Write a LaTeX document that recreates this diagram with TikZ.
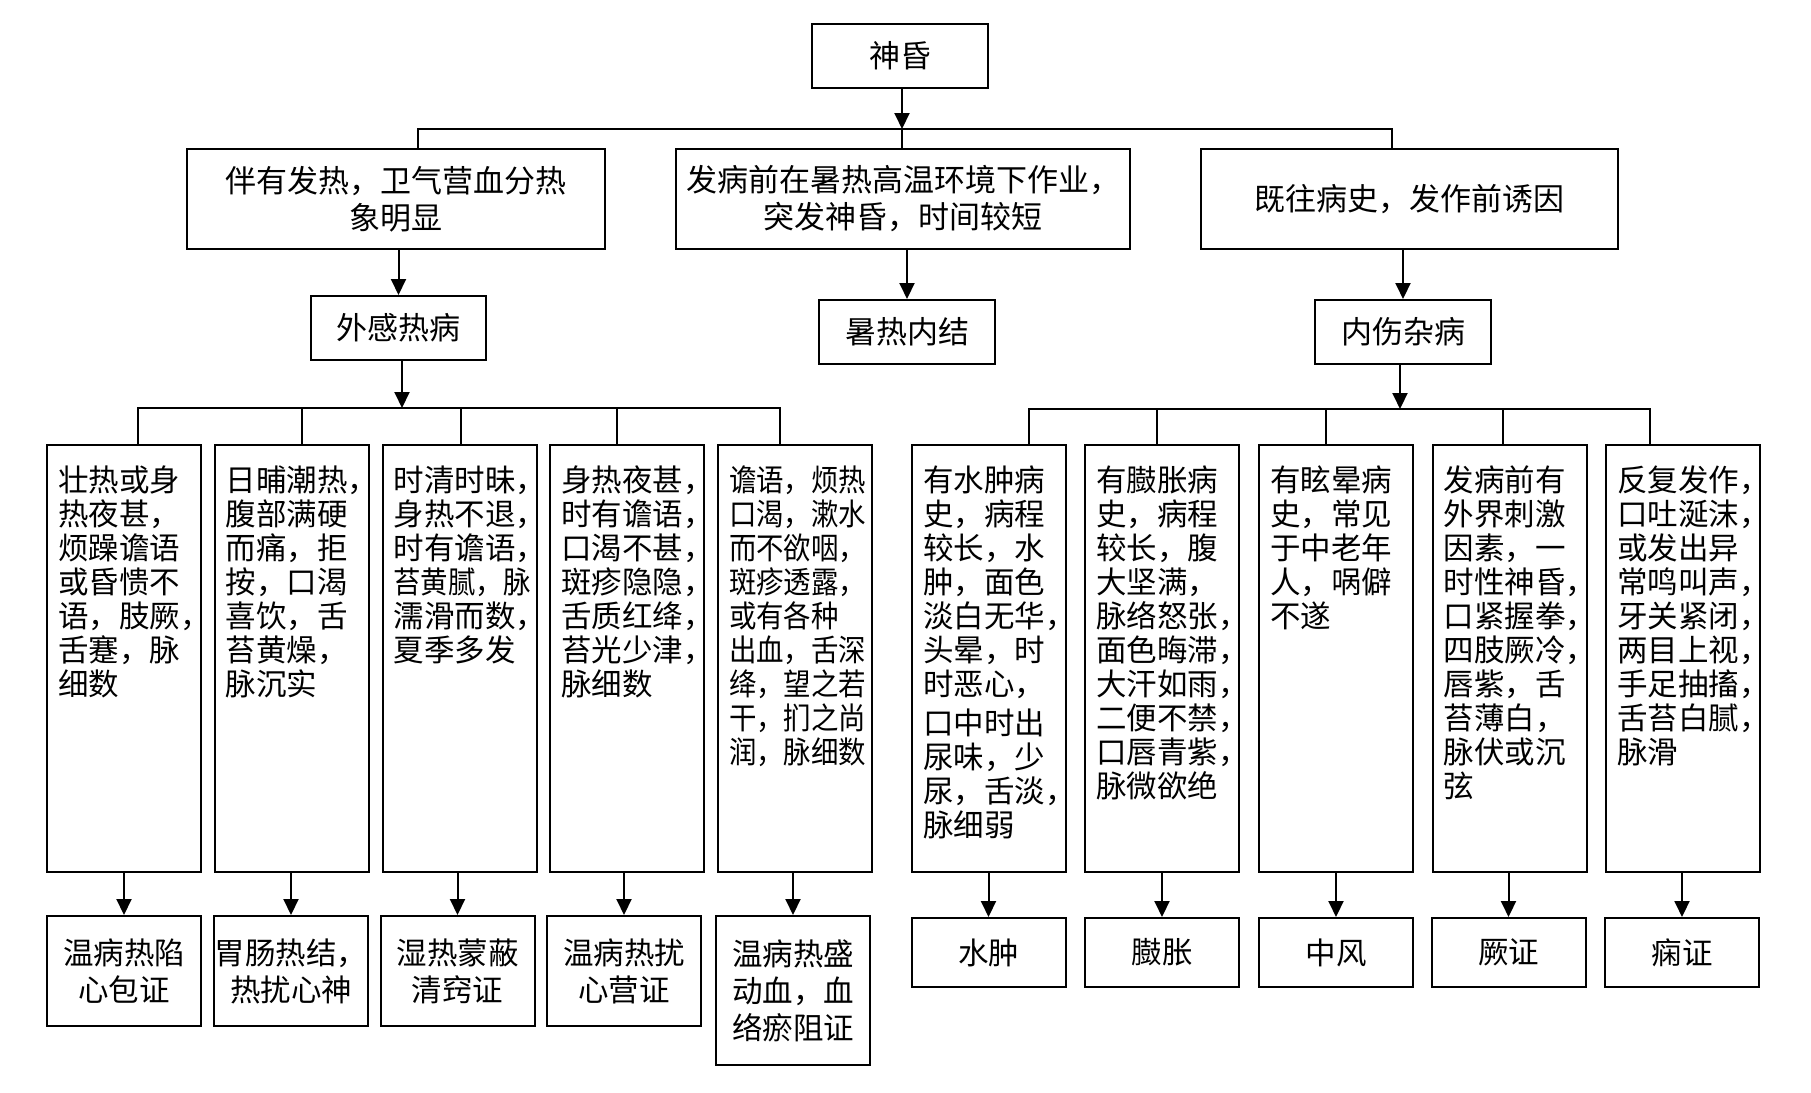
\documentclass[tikz,border=0pt]{standalone}
\usepackage{fontspec}
\setmainfont{Noto Sans CJK SC}
\newfontfamily\narrowcjk[FakeStretch=0.9]{Noto Sans CJK SC}
\usetikzlibrary{arrows.meta}
\usetikzlibrary{calc}
\usetikzlibrary{positioning}

\newcommand{\coltext}[1]{\parbox[c][\MH pt][t]{132pt}{\raggedright\vspace*{21pt}#1}}

\begin{document}
\begin{tikzpicture}[x=1pt, y=-1pt]

\pgfmathsetmacro{\MW}{154}
\pgfmathsetmacro{\MH}{427}
\pgfmathsetmacro{\MY}{658.5}

\tikzset{
  box/.style={draw, line width=2pt, inner sep=0pt, align=center},
  topbox/.style={box, font=\fontsize{31}{37}\selectfont},
  colbox/.style={draw, line width=2pt, inner xsep=11pt, inner ysep=0pt, minimum width=\MW pt, font=\fontsize{30.5}{34}\selectfont},
  endbox/.style={box, minimum width=\MW pt, font=\fontsize{30.5}{37}\selectfont},
  link/.style={line width=2pt},
  arr/.style={line width=2pt, -{Triangle[length=16pt, width=15pt]}},
}

\useasboundingbox (0,0) rectangle (1811,1092);

% level 0
\node [topbox, minimum width=176pt, minimum height=64pt] (SH) at (900, 56) {神昏};

% level 1
\node [topbox, minimum width=418pt, minimum height=100pt] (C1) at (396, 199) {伴有发热，卫气营血分热\\象明显};
\node [topbox, minimum width=454pt, minimum height=100pt] (C2) at (903, 199) {发病前在暑热高温环境下作业，\\突发神昏，时间较短};
\node [topbox, minimum width=417pt, minimum height=100pt] (C3) at (1409.5, 199) {既往病史，发作前诱因};

\coordinate (B0) at (902, 129);
\draw [arr] (SH.south -| B0) -- (B0);
\draw [link] ($(C1.north)+(22,0)$) |- (B0) -| ($(C3.north)+(-18,0)$);
\draw [link] (B0) -- (B0 |- C2.north);

% level 2
\node [topbox, minimum width=175pt, minimum height=64pt] (WG) at (398.5, 328) {外感热病};
\node [topbox, minimum width=176pt, minimum height=64pt] (SR) at (907, 332) {暑热内结};
\node [topbox, minimum width=176pt, minimum height=64pt] (NS) at (1403, 332) {内伤杂病};

\draw [arr] (WG.north |- C1.south) -- (WG.north);
\draw [arr] (SR.north |- C2.south) -- (SR.north);
\draw [arr] (NS.north |- C3.south) -- (NS.north);

% level 3, left
\node [colbox] (M1) at (124, \MY) {\coltext{壮热或身\\热夜甚，\\烦躁谵语\\或昏愦不\\语，肢厥，\\舌蹇，脉\\细数}};
\node [colbox] (M2) at (291.5, \MY) {\coltext{日晡潮热，\\腹部满硬\\而痛，拒\\按，口渴\\喜饮，舌\\苔黄燥，\\脉沉实}};
\node [colbox] (M3) at (459.5, \MY) {\coltext{时清时昧，\\身热不退，\\时有谵语，\\{\narrowcjk 苔黄腻，脉}\\濡滑而数，\\夏季多发}};
\node [colbox] (M4) at (627, \MY) {\coltext{身热夜甚，\\时有谵语，\\口渴不甚，\\斑疹隐隐，\\舌质红绛，\\苔光少津，\\脉细数}};
\node [colbox] (M5) at (795, \MY) {\coltext{\narrowcjk 谵语，烦热\\口渴，漱水\\而不欲咽，\\斑疹透露，\\或有各种\\出血，舌深\\绛，望之若\\干，扪之尚\\润，脉细数}};

\coordinate (BL) at (402, 408);
\draw [arr] (WG.south -| BL) -- (BL);
\coordinate (d1) at ($(M1.north)+(14,0)$);
\coordinate (d2) at ($(M2.north)+(10.5,0)$);
\coordinate (d3) at ($(M3.north)+(1.5,0)$);
\coordinate (d4) at ($(M4.north)+(-10,0)$);
\coordinate (d5) at ($(M5.north)+(-15,0)$);
\draw [link] (d1) |- (BL) -| (d5);
\draw [link] (d2) -- (d2 |- BL);
\draw [link] (d3) -- (d3 |- BL);
\draw [link] (d4) -- (d4 |- BL);

% level 3, right
\node [colbox] (N1) at (989, \MY) {\coltext{有水肿病\\史，病程\\较长，水\\肿，面色\\淡白无华，\\头晕，时\\时恶心，\\[5pt]口中时出\\尿味，少\\尿，舌淡，\\脉细弱}};
\node [colbox] (N2) at (1162, \MY) {\coltext{有臌胀病\\史，病程\\较长，腹\\大坚满，\\脉络怒张，\\面色晦滞，\\大汗如雨，\\二便不禁，\\口唇青紫，\\脉微欲绝}};
\node [colbox] (N3) at (1336, \MY) {\coltext{有眩晕病\\史，常见\\于中老年\\人，㖞僻\\不遂}};
\node [colbox] (N4) at (1509.5, \MY) {\coltext{发病前有\\外界刺激\\因素，一\\时性神昏，\\口紧握拳，\\四肢厥冷，\\唇紫，舌\\苔薄白，\\脉伏或沉\\弦}};
\node [colbox] (N5) at (1683, \MY) {\coltext{反复发作，\\口吐涎沫，\\或发出异\\常鸣叫声，\\牙关紧闭，\\两目上视，\\手足抽搐，\\舌苔白腻，\\脉滑}};

\coordinate (BR) at (1400, 409);
\draw [arr] (NS.south -| BR) -- (BR);
\coordinate (e1) at ($(N1.north)+(40,0)$);
\coordinate (e2) at ($(N2.north)+(-5,0)$);
\coordinate (e3) at ($(N3.north)+(-10,0)$);
\coordinate (e4) at ($(N4.north)+(-6.5,0)$);
\coordinate (e5) at ($(N5.north)+(-33,0)$);
\draw [link] (e1) |- (BR) -| (e5);
\draw [link] (e2) -- (e2 |- BR);
\draw [link] (e3) -- (e3 |- BR);
\draw [link] (e4) -- (e4 |- BR);

% level 4, left
\node [endbox, minimum height=110pt] (E1) at (124, 971) {温病热陷\\心包证};
\node [endbox, minimum height=110pt] (E2) at (291, 971) {胃肠热结，\\热扰心神};
\node [endbox, minimum height=110pt] (E3) at (457.5, 971) {湿热蒙蔽\\清窍证};
\node [endbox, minimum height=110pt] (E4) at (624, 971) {温病热扰\\心营证};
\node [endbox, minimum height=149pt] (E5) at (793, 990.5) {温病热盛\\动血，血\\络瘀阻证};

\draw [arr] (E1.north |- M1.south) -- (E1.north);
\draw [arr] (E2.north |- M2.south) -- (E2.north);
\draw [arr] (E3.north |- M3.south) -- (E3.north);
\draw [arr] (E4.north |- M4.south) -- (E4.north);
\draw [arr] (E5.north |- M5.south) -- (E5.north);

% level 4, right
\node [endbox, minimum height=69pt] (F1) at (988.5, 952.5) {水肿};
\node [endbox, minimum height=69pt] (F2) at (1162, 952.5) {臌胀};
\node [endbox, minimum height=69pt] (F3) at (1336, 952.5) {中风};
\node [endbox, minimum height=69pt] (F4) at (1508.5, 952.5) {厥证};
\node [endbox, minimum height=69pt] (F5) at (1682, 952.5) {痫证};

\draw [arr] (F1.north |- N1.south) -- (F1.north);
\draw [arr] (F2.north |- N2.south) -- (F2.north);
\draw [arr] (F3.north |- N3.south) -- (F3.north);
\draw [arr] (F4.north |- N4.south) -- (F4.north);
\draw [arr] (F5.north |- N5.south) -- (F5.north);

\end{tikzpicture}
\end{document}
